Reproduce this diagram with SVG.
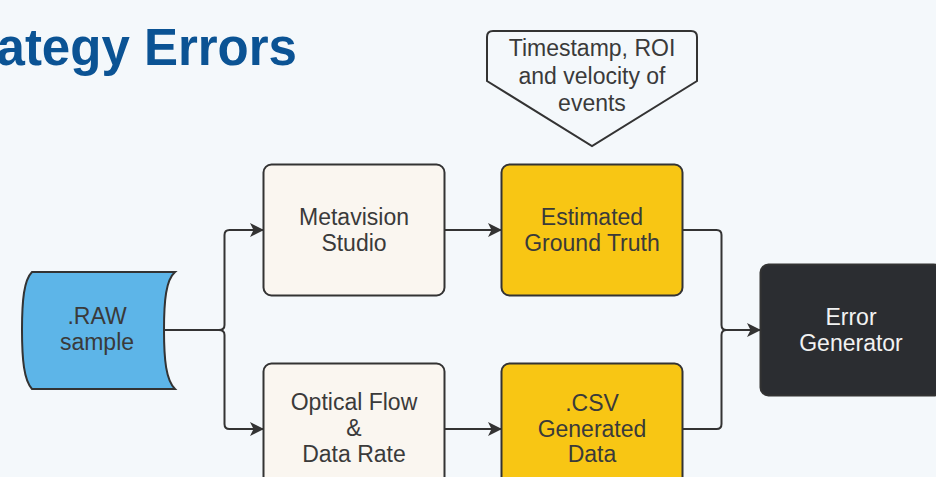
<svg xmlns="http://www.w3.org/2000/svg" width="936" height="477" viewBox="0 0 936 477">
  <defs>
    <marker id="arrow" viewBox="0 0 14 14" refX="13" refY="7" markerWidth="14" markerHeight="14" markerUnits="userSpaceOnUse" orient="auto">
      <path d="M0,0 L14,7 L0,14 L3.5,7 Z" fill="#333333"/>
    </marker>
  </defs>
  <style>
    .lbl { font-family: "Liberation Sans", Arial, sans-serif; font-size: 23px; text-anchor: middle; fill: #3a3a3a; }
    .box { stroke: #333333; stroke-width: 2; }
    .light { fill: #faf6f0; }
    .gold { fill: #f8c614; }
    .edge { fill: none; stroke: #333333; stroke-width: 2; }
  </style>

  <rect width="936" height="477" fill="#f4f8fb"/>

  <!-- title -->
  <text x="297" y="64.5" font-family="'Liberation Sans', Arial, sans-serif" font-size="51" font-weight="bold" fill="#0b5394" text-anchor="end">ategy Errors</text>

  <!-- connectors -->
  <g id="connectors">
    <path class="edge" d="M164,330 H219 Q224.5,330 224.5,325 V235 Q224.5,230 229.5,230 H263" marker-end="url(#arrow)"/>
    <path class="edge" d="M219,330 Q224.5,330 224.5,335 V424 Q224.5,429 229.5,429 H263" marker-end="url(#arrow)"/>
    <path class="edge" d="M444.5,230 H501" marker-end="url(#arrow)"/>
    <path class="edge" d="M444.5,429 H501" marker-end="url(#arrow)"/>
    <path class="edge" d="M682.5,230 H716.5 Q721.5,230 721.5,235 V325 Q721.5,330 726.5,330 H760" marker-end="url(#arrow)"/>
    <path class="edge" d="M682.5,429 H716.5 Q721.5,429 721.5,424 V335 Q721.5,330 726.5,330"/>
  </g>

  <!-- callout -->
  <g id="node-events">
    <path class="box" fill="#f4f8fb" d="M493,31 H691 Q697,31 697,37 V81 L592,146 L487,81 V37 Q487,31 493,31 Z"/>
    <text class="lbl" x="592" y="56">Timestamp, ROI</text>
    <text class="lbl" x="592" y="84">and velocity of</text>
    <text class="lbl" x="592" y="111">events</text>
  </g>

  <!-- raw data source (stored data shape) -->
  <g id="node-raw">
    <path class="box" fill="#5db5e8" d="M32,272 H175 C166,280 164,300 164,330 C164,360 166,380 175,389 H32 C24,380 22,360 22,330 C22,300 24,280 32,272 Z"/>
    <text class="lbl" x="97" y="324">.RAW</text>
    <text class="lbl" x="97" y="350">sample</text>
  </g>

  <g id="node-metavision">
    <rect class="box light" x="263.5" y="164.5" width="181" height="131" rx="8"/>
    <text class="lbl" x="354" y="225">Metavision</text>
    <text class="lbl" x="354" y="251">Studio</text>
  </g>

  <g id="node-ground-truth">
    <rect class="box gold" x="501.5" y="164.5" width="181" height="131" rx="8"/>
    <text class="lbl" x="592" y="225" fill="#2a2a2a">Estimated</text>
    <text class="lbl" x="592" y="251" fill="#2a2a2a">Ground Truth</text>
  </g>

  <g id="node-optical-flow">
    <rect class="box light" x="263.5" y="363.5" width="181" height="131" rx="8"/>
    <text class="lbl" x="354" y="410">Optical Flow</text>
    <text class="lbl" x="354" y="436">&amp;</text>
    <text class="lbl" x="354" y="462">Data Rate</text>
  </g>

  <g id="node-csv">
    <rect class="box gold" x="501.5" y="363.5" width="181" height="131" rx="8"/>
    <text class="lbl" x="592" y="411">.CSV</text>
    <text class="lbl" x="592" y="437">Generated</text>
    <text class="lbl" x="592" y="462">Data</text>
  </g>

  <g id="node-error-generator">
    <rect class="box" fill="#2b2d31" x="760.5" y="264.5" width="181" height="131" rx="8"/>
    <text class="lbl" x="851" y="324.5" style="fill:#f2f2f2">Error</text>
    <text class="lbl" x="851" y="351" style="fill:#f2f2f2">Generator</text>
  </g>
</svg>
